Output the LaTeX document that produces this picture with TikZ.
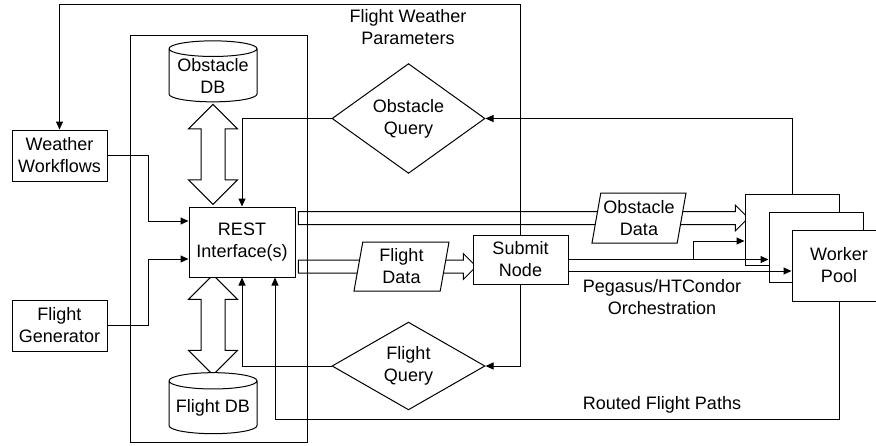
\documentclass[tikz,border=0pt]{standalone}
\usepackage{fontspec}
\setmainfont{Liberation Sans}
\usetikzlibrary{shapes.geometric,shapes.arrows,arrows.meta,calc,backgrounds,positioning}

\begin{document}
\begin{tikzpicture}
[x=1pt,y=-1pt,line width=1pt,
every node/.append style={font=\fontsize{18}{22}\selectfont,align=center,inner sep=0pt},
box/.style={draw,fill=white,minimum width=95pt,minimum height=51pt},
store/.style={draw,fill=white,cylinder,shape border rotate=90,aspect=0.22,minimum width=88pt,minimum height=61pt},
query/.style={draw,fill=white,diamond,minimum width=153pt,minimum height=80pt},
data/.style={draw,fill=white,trapezium,trapezium left angle=76,trapezium right angle=104,trapezium stretches body,minimum width=94pt,minimum height=50pt},
flow/.style={-{Triangle[length=8pt,width=7pt]}},
pipe/.style={draw,line width=1pt,single arrow,single arrow head extend=6.5pt,inner xsep=0pt,inner ysep=6pt},
pipes/.style={draw,line width=1pt,double arrow,double arrow head extend=12.5pt,inner xsep=0pt,inner ysep=11.5pt,rotate=90}]
\clip (0,0) rectangle (876,445);
\node[draw,minimum width=177pt,minimum height=407pt] (group) at (218.5,238.5) {};
\node[box] (weather) at (59.5,155.5) {Weather\\Workflows};
\node[box] (flightgen) at (59.5,325.5) {Flight\\Generator};
\node[box,minimum width=106pt,minimum height=70pt] (rest) at (242,242) {REST\\Interface(s)};
\node[store] (odb) at (213,75.5) {Obstacle\\DB};
\node[store] (fdb) at (213,407.5) {Flight DB};
\node[query] (oquery) at (408.5,118.5) {Obstacle\\Query};
\node[query,minimum height=82pt] (fquery) at (408.5,366) {Flight\\Query};
\node[box,minimum height=49pt] (submit) at (520.5,259.5) {Submit\\Node};
\node[data] (odata) at (639,218) {Obstacle\\Data};
\node[data,minimum width=95pt,minimum height=49pt] (fdata) at (401.5,266.5) {Flight\\Data};
\node[box,minimum width=94pt,minimum height=71pt] (pool1) at (792,229.5) {};
\node[box,minimum width=94pt,minimum height=70pt] (pool2) at (816,247) {};
\node[box,minimum width=94pt,minimum height=71pt] (pool3) at (839,265.5) {Worker\\Pool};
% labels
\node (lblparams) at (408,27.5) {Flight Weather\\Parameters};
\node (lblorch) at (662,297.5) {Pegasus/HTCondor\\Orchestration};
\node (lblrouted) at (662,405) {Routed Flight Paths};
% hollow arrows
\begin{scope}[on background layer]
\node[pipes,minimum height=100pt] (oarrow) at ($(odb.south)!0.5!(rest.north -| odb.south)$) {};
\node[pipes,minimum height=100pt] (farrow) at ($(fdb.north)!0.5!(rest.south -| fdb.north)$) {};
\node[pipe,minimum height=450pt] (opipe) at ($(rest.east |- odata)!0.5!(pool1.west |- odata)$) {};
\node[pipe,minimum height=178pt] (fpipe) at ($(rest.east |- fdata)!0.5!(submit.west |- fdata)$) {};
\end{scope}
% connectors
\coordinate (skyline) at (0,4);
\draw[flow] (submit.north) -- (submit.north |- skyline) -| (weather.north);
\draw[flow] (submit.south) |- (fquery.east);
\draw[flow] (pool1.north) |- (oquery.east);
\draw[flow] (oquery.west) -| (rest.north);
\draw[flow] (fquery.west) -| (rest.south);
\draw[flow] (pool3.south) -- ++(0,118) -| ([xshift=33pt]rest.south);
\draw[flow] (weather.east) -- ++(41,0) |- ([yshift=21pt]rest.west);
\draw[flow] (flightgen.east) -- ++(41,0) |- ([yshift=-17pt]rest.west);
\draw[flow] (submit.east) -- (submit.east -| pool2.west);
\draw[flow] ($(submit.east)+(125,0)$) |- ([yshift=-11.5pt]pool1.west);
\draw[flow] ([yshift=-11.5pt]submit.east) -- ([yshift=-11.5pt]submit.east -| pool3.west);
\end{tikzpicture}
\end{document}
